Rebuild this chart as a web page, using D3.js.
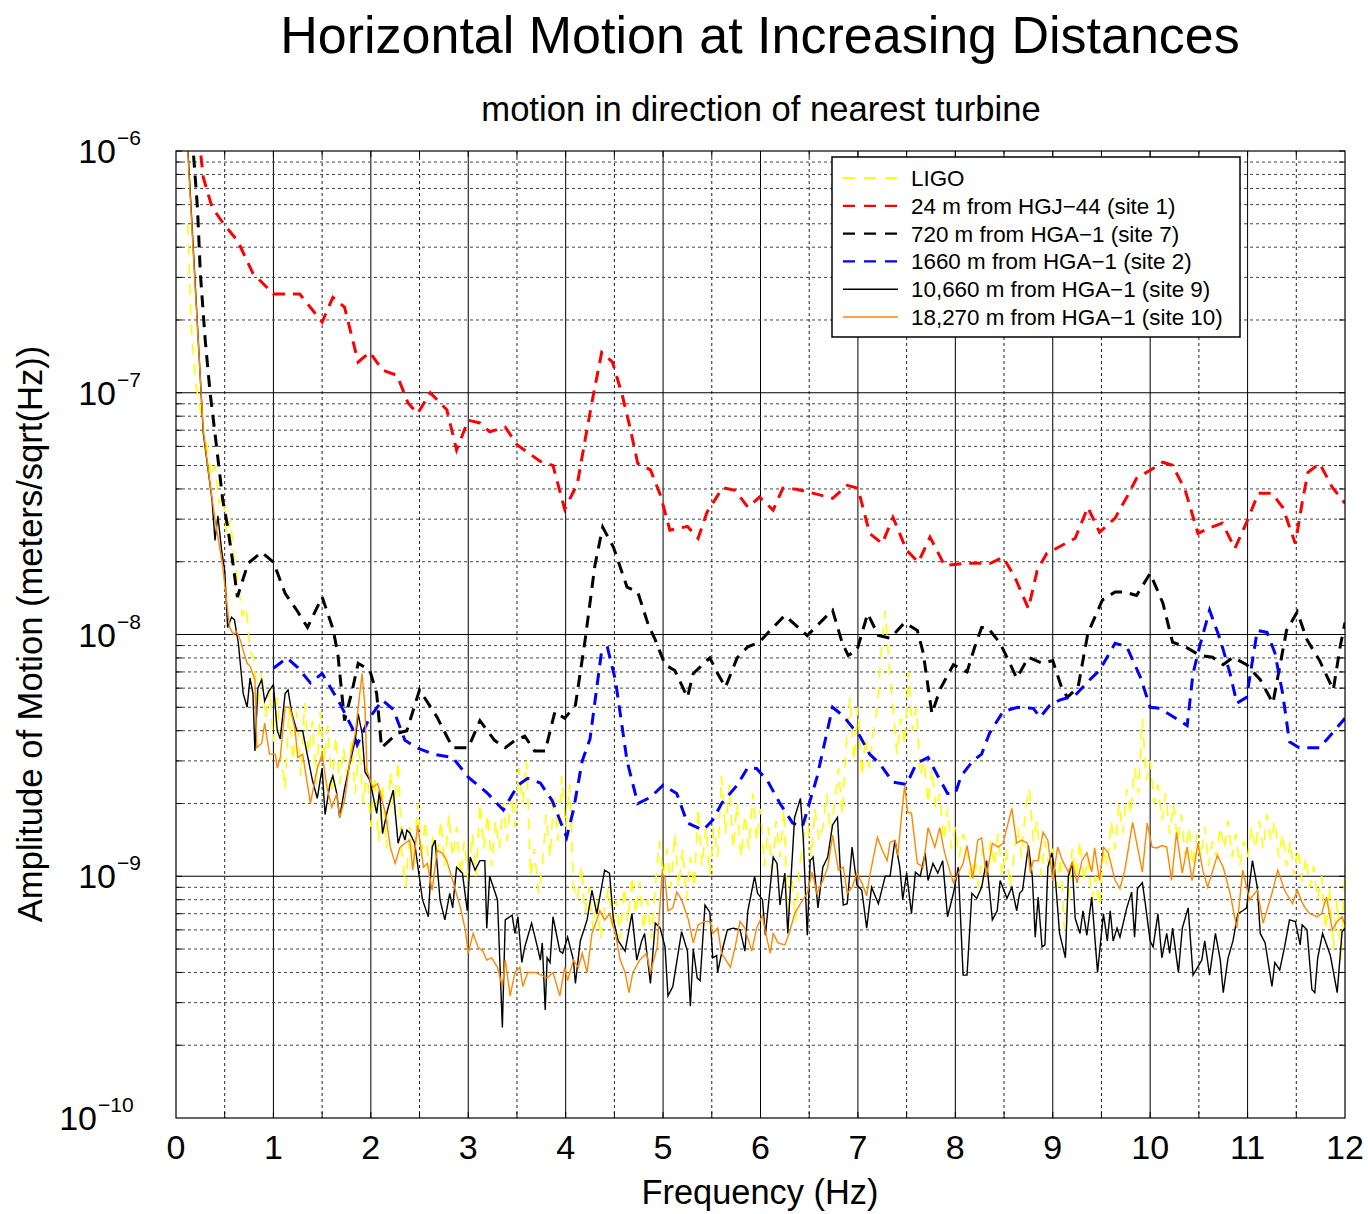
<!DOCTYPE html>
<html>
<head>
<meta charset="utf-8">
<script src="https://cdn.jsdelivr.net/npm/d3@7"></script>
<style>
  body { margin: 0; background: #fff; }
  svg { display: block; }
  text { font-family: "Liberation Sans", Arial, Helvetica, sans-serif; fill: #000; }
</style>
</head>
<body>
<svg id="chart" width="1368" height="1214"></svg>
<script>
// Amplitude values are given in nm/sqrt(Hz); multiplied by `unit` to get m/sqrt(Hz).
const unit = 1e-9;

// LIGO reference spectrum, sampled on a regular frequency grid.
const ligoStart = 0.12, ligoStep = 0.04;
const ligo = [
  500,180,110,90,70,60,45,50,35,38,26,30,20,16,12,13,8.5,8,5.0,7.0,4.5,6.0,3.6,5.5,3.0,
  2.3,5.0,3.0,4.8,2.6,5.2,3.2,4.4,2.4,4.8,3.0,4.2,2.2,3.8,2.4,3.4,2.5,3.6,2.2,3.5,2.0,2.8,1.6,2.6,1.4,
  2.4,1.3,2.7,1.8,3.0,1.2,0.9,1.6,1.1,2.0,1.2,1.7,1.0,1.5,1.2,1.7,1.1,1.8,1.2,1.6,1.0,1.4,0.95,1.5,1.0,
  2.0,1.3,1.8,1.1,1.7,1.3,2.0,1.4,2.2,1.6,2.8,2.0,3.0,1.0,1.3,0.85,1.1,1.8,1.2,2.2,1.4,2.6,1.6,2.4,0.9,
  0.8,1.1,0.7,0.9,0.6,0.8,0.55,0.75,0.9,0.6,0.8,0.55,0.9,0.65,1.0,0.7,0.95,0.6,0.8,0.55,0.9,1.4,1.0,1.3,0.9,
  1.5,0.9,1.3,0.8,1.2,0.9,1.9,1.1,1.6,1.0,1.6,1.2,2.6,1.5,2.4,1.3,2.0,1.2,1.8,1.3,2.2,1.4,1.9,1.1,1.6,
  1.0,1.7,1.2,1.9,0.7,1.0,0.65,1.1,1.4,1.8,1.2,1.9,1.4,1.6,2.2,1.5,2.0,2.8,1.8,3.5,5.5,3.0,5.0,2.6,3.8,
  2.8,4.0,5.0,8.5,12.5,7.5,5.0,3.2,4.5,3.5,7.0,4.0,5.0,2.6,3.0,2.0,2.8,1.9,2.2,1.4,1.9,1.3,1.6,1.2,1.5,
  1.3,0.95,1.2,0.9,1.3,1.0,1.4,1.1,1.5,1.0,1.3,0.9,1.2,1.6,1.2,1.9,2.3,1.4,1.7,1.0,1.4,1.1,1.3,0.9,1.2,
  0.6,0.8,1.3,1.0,1.4,0.95,1.2,0.8,1.0,0.75,1.3,1.1,1.7,1.3,2.0,1.5,2.3,1.8,2.8,2.2,4.5,2.5,3.0,2.0,2.4,
  1.7,2.2,1.5,2.0,1.4,1.8,1.2,1.6,1.1,1.5,1.2,1.6,1.1,1.4,1.2,1.6,1.3,1.7,1.2,1.5,1.1,1.4,1.2,1.6,1.3,
  1.7,1.3,1.8,1.4,1.7,1.2,1.5,1.1,1.4,1.0,1.3,0.95,1.2,0.9,1.1,0.8,1.0,0.6,0.9,0.5,0.8,0.45,1.1
];

// [frequency (Hz), amplitude (nm/sqrt(Hz))]
const site1 = [
  [0.22,1400],[0.25,1000],[0.28,778],[0.37,585],[0.50,492],[0.63,427],[0.79,312],[1.0,256],[1.27,256],
  [1.50,196],[1.61,248],[1.73,226],[1.87,134],[1.99,147],[2.12,124],[2.27,118],[2.38,91],[2.48,82],
  [2.61,100],[2.78,85],[2.88,58],[3.0,77],[3.12,75],[3.22,69],[3.38,72],[3.50,61],[3.74,52],[3.87,50],
  [3.99,33],[4.12,42],[4.20,64],[4.28,96],[4.37,147],[4.48,134],[4.58,98],[4.66,72],[4.74,51],[4.87,48],
  [4.97,38],[5.07,27],[5.25,28],[5.36,25],[5.45,32],[5.55,37],[5.61,40.5],[5.74,39.5],[5.87,33.6],
  [5.99,37],[6.13,32.7],[6.23,40.3],[6.37,39.9],[6.51,38.7],[6.74,36.6],[6.89,41.4],[7.0,40.3],
  [7.12,26.2],[7.25,23.8],[7.36,30.5],[7.50,22.3],[7.62,19.9],[7.74,25.3],[7.89,19.3],[8.12,19.7],
  [8.36,19.7],[8.49,20.9],[8.61,17.3],[8.75,12.8],[8.84,18.4],[8.94,21.7],[9.0,22.3],[9.23,25],
  [9.36,33.6],[9.48,26.5],[9.64,30.3],[9.76,37],[9.86,44.3],[10.0,47.8],[10.13,51.6],[10.23,50.1],
  [10.36,39.5],[10.49,26.2],[10.63,27.8],[10.74,28.9],[10.87,22.7],[10.99,29.1],[11.11,38.4],
  [11.25,38.4],[11.36,33.6],[11.49,23.8],[11.57,37],[11.62,46.9],[11.74,51],[11.87,40.6],[12.0,34.9]
];

const site7 = [
  [0.15,1400],[0.22,585],[0.25,312],[0.30,165],[0.35,100],[0.40,68],[0.48,36],[0.53,28],[0.59,19],
  [0.63,14.3],[0.74,19.7],[0.88,21.9],[1.0,19.9],[1.12,14.8],[1.24,12.6],[1.35,10.7],[1.50,14.3],
  [1.61,10.6],[1.66,8.4],[1.73,4.4],[1.81,5.9],[1.87,7.6],[1.99,7.1],[2.06,5.7],[2.11,3.4],[2.27,3.9],
  [2.37,4.0],[2.50,5.9],[2.68,4.55],[2.84,3.4],[3.0,3.4],[3.12,4.4],[3.27,3.65],[3.38,3.4],[3.48,3.65],
  [3.58,3.8],[3.68,3.3],[3.79,3.3],[3.89,4.8],[3.99,4.5],[4.10,5.1],[4.20,9.5],[4.30,19.3],[4.38,27.8],
  [4.49,23],[4.63,15.7],[4.74,15],[4.85,10.9],[4.92,9.5],[5.02,7.5],[5.12,7.1],[5.25,5.5],[5.31,6.9],
  [5.48,8.0],[5.56,6.9],[5.64,6.05],[5.76,8.0],[5.87,8.9],[5.99,9.3],[6.07,10.1],[6.25,12],[6.48,9.9],
  [6.64,11.5],[6.74,12.6],[6.84,9.2],[6.90,8.2],[6.99,8.6],[7.10,12.2],[7.21,9.9],[7.33,9.65],
  [7.48,11.2],[7.61,10.4],[7.67,8.4],[7.76,4.7],[7.84,5.9],[7.98,7.5],[8.12,7.0],[8.20,8.9],[8.27,10.7],
  [8.33,10.7],[8.46,9.2],[8.58,7.3],[8.63,6.6],[8.75,8.05],[8.89,7.6],[9.0,7.8],[9.09,6.05],[9.15,5.5],
  [9.26,6.05],[9.36,10.1],[9.51,13.9],[9.64,15],[9.74,15],[9.86,14.5],[10.0,17.9],[10.13,13.5],
  [10.23,9.3],[10.38,8.8],[10.51,8.2],[10.64,8.05],[10.75,7.5],[10.85,8.05],[10.99,7.5],[11.13,6.5],
  [11.26,5.2],[11.40,10.4],[11.51,12.4],[11.61,9.5],[11.74,7.8],[11.88,5.9],[11.95,8.9],[12.0,11.2]
];

const site2 = [
  [1.0,7.25],[1.14,8.0],[1.25,7.3],[1.38,6.3],[1.50,6.9],[1.68,5.2],[1.81,4.1],[1.86,3.5],[1.99,4.55],
  [2.12,5.35],[2.23,4.9],[2.35,3.65],[2.47,3.4],[2.64,3.2],[2.84,3.1],[3.0,2.57],[3.19,2.22],[3.36,1.88],
  [3.51,2.38],[3.61,2.54],[3.74,2.43],[3.86,2.06],[4.01,1.45],[4.08,1.88],[4.17,3.0],[4.25,3.7],
  [4.37,8.6],[4.43,8.8],[4.51,6.5],[4.63,3.0],[4.74,2.0],[4.87,2.12],[5.0,2.38],[5.14,2.2],[5.25,1.66],
  [5.41,1.55],[5.51,1.71],[5.60,2.0],[5.76,2.38],[5.87,2.82],[5.96,2.79],[6.07,2.49],[6.20,2.0],
  [6.33,1.66],[6.43,1.6],[6.51,2.06],[6.58,2.57],[6.68,3.9],[6.74,5.0],[6.85,4.6],[6.95,4.1],[7.02,3.8],
  [7.12,3.2],[7.23,2.9],[7.36,2.45],[7.50,2.4],[7.60,2.93],[7.72,3.1],[7.82,2.6],[7.92,2.2],[8.0,2.2],
  [8.06,2.6],[8.18,3.0],[8.27,3.2],[8.35,3.9],[8.49,4.8],[8.64,5.0],[8.80,4.95],[8.87,4.55],[8.97,5.1],
  [9.07,5.35],[9.23,5.6],[9.38,6.5],[9.48,7.1],[9.64,9.2],[9.76,8.9],[9.90,6.65],[10.0,5.0],[10.10,4.95],
  [10.38,4.2],[10.44,6.9],[10.51,9.0],[10.61,12.6],[10.72,9.5],[10.82,6.9],[10.89,5.2],[10.99,5.5],
  [11.10,10.4],[11.20,10.2],[11.28,8.4],[11.36,5.7],[11.43,3.6],[11.53,3.4],[11.74,3.4],[12.0,4.5]
];

const site9 = [
  [0.12,1050],[0.20,270],[0.28,68],[0.37,36],[0.40,24.5],[0.43,31],[0.47,22],[0.50,18.4],[0.53,10.7],
  [0.57,11.8],[0.60,11.5],[0.64,9.2],[0.69,5.7],[0.73,5.0],[0.76,6.6],[0.79,5.7],[0.81,3.3],[0.84,6.0],
  [0.88,6.5],[0.91,5.3],[0.95,5.8],[1.0,6.2],[1.04,4.0],[1.07,3.7],[1.12,5.7],[1.15,5.9],[1.19,4.7],
  [1.24,4.0],[1.30,4.0],[1.34,3.3],[1.40,2.5],[1.45,2.1],[1.50,2.8],[1.53,1.8],[1.58,2.4],[1.61,2.6],
  [1.65,2.2],[1.68,1.75],[1.73,2.3],[1.79,3.0],[1.84,3.65],[1.87,4.7],[1.91,3.9],[1.94,2.7],[1.99,2.5],
  [2.06,1.82],[2.09,2.27],[2.12,1.5],[2.17,1.87],[2.23,2.27],[2.28,1.37],[2.32,1.55],[2.35,1.41],
  [2.37,1.55],[2.40,1.51],[2.45,1.37],[2.53,0.80],[2.59,0.68],[2.63,1.32],[2.66,1.41],[2.71,0.80],
  [2.76,0.66],[2.81,0.85],[2.84,0.74],[2.88,1.09],[2.94,1.03],[2.99,0.72],[3.02,1.2],[3.07,1.06],
  [3.12,1.16],[3.17,1.16],[3.19,0.61],[3.22,1.0],[3.30,0.80],[3.35,0.237],[3.38,0.66],[3.45,0.69],
  [3.48,0.58],[3.51,0.68],[3.55,0.44],[3.58,0.51],[3.65,0.64],[3.71,0.51],[3.74,0.45],[3.76,0.53],
  [3.79,0.28],[3.81,0.46],[3.84,0.44],[3.87,0.68],[3.94,0.49],[3.97,0.48],[4.02,0.56],[4.08,0.45],
  [4.10,0.36],[4.15,0.54],[4.22,0.66],[4.27,0.875],[4.32,0.70],[4.40,1.06],[4.45,1.03],[4.49,0.66],
  [4.54,0.54],[4.61,0.49],[4.68,0.70],[4.73,0.45],[4.78,0.54],[4.81,0.58],[4.87,0.36],[4.92,0.64],
  [4.97,0.61],[5.02,0.51],[5.05,0.32],[5.10,0.35],[5.19,0.59],[5.25,0.49],[5.28,0.29],[5.31,0.50],
  [5.35,0.38],[5.38,0.37],[5.43,0.76],[5.48,0.71],[5.51,0.46],[5.55,0.47],[5.56,0.40],[5.61,0.50],
  [5.66,0.60],[5.72,0.61],[5.79,0.60],[5.84,0.49],[5.87,0.72],[5.94,1.0],[5.97,0.85],[6.02,0.80],
  [6.05,0.57],[6.13,1.2],[6.17,1.13],[6.20,0.76],[6.25,1.03],[6.28,0.58],[6.35,1.75],[6.41,2.1],
  [6.44,1.41],[6.48,0.57],[6.51,1.16],[6.54,1.2],[6.59,0.74],[6.64,1.09],[6.69,1.2],[6.74,1.63],
  [6.79,1.75],[6.82,1.06],[6.85,0.76],[6.89,0.77],[6.94,1.32],[6.99,0.92],[7.04,0.875],[7.09,0.61],
  [7.14,0.90],[7.21,0.77],[7.28,1.0],[7.33,1.0],[7.38,1.41],[7.43,1.09],[7.46,0.80],[7.50,1.03],
  [7.55,0.70],[7.59,1.04],[7.64,1.0],[7.69,1.25],[7.72,0.96],[7.77,1.13],[7.82,1.03],[7.87,1.16],
  [7.92,0.68],[7.98,0.85],[8.03,1.09],[8.08,0.39],[8.12,0.39],[8.17,0.85],[8.22,0.81],[8.27,0.90],
  [8.32,1.16],[8.38,0.66],[8.43,0.72],[8.46,0.96],[8.53,0.81],[8.58,0.90],[8.63,0.72],[8.66,0.85],
  [8.69,0.875],[8.75,1.34],[8.79,1.0],[8.82,0.56],[8.85,0.82],[8.89,0.51],[8.92,0.52],[8.95,1.09],
  [8.99,1.25],[9.02,1.06],[9.07,0.58],[9.13,0.46],[9.16,1.0],[9.20,1.14],[9.23,0.67],[9.28,0.58],
  [9.31,0.72],[9.35,0.57],[9.40,0.82],[9.46,0.40],[9.52,0.70],[9.56,0.54],[9.59,0.72],[9.62,0.54],
  [9.66,0.61],[9.69,0.56],[9.76,0.74],[9.81,0.86],[9.84,0.56],[9.87,0.89],[9.92,0.94],[9.95,0.77],
  [10.0,0.54],[10.03,0.51],[10.08,0.70],[10.12,0.46],[10.17,0.58],[10.20,0.48],[10.23,0.61],
  [10.29,0.40],[10.33,0.61],[10.39,0.74],[10.44,0.39],[10.53,0.45],[10.56,0.54],[10.61,0.39],
  [10.67,0.58],[10.72,0.45],[10.75,0.33],[10.80,0.46],[10.85,0.54],[10.90,0.70],[10.95,0.72],
  [10.99,0.74],[11.05,1.16],[11.10,0.90],[11.13,0.58],[11.18,0.53],[11.25,0.35],[11.28,0.44],
  [11.33,0.41],[11.38,0.51],[11.43,0.66],[11.49,0.65],[11.54,0.52],[11.56,0.63],[11.61,0.60],
  [11.66,0.34],[11.69,0.33],[11.72,0.46],[11.77,0.58],[11.85,0.47],[11.92,0.33],[11.97,0.59],[12.0,0.61]
];

const site10 = [
  [0.12,1000],[0.20,260],[0.28,70],[0.35,42],[0.40,30],[0.44,24],[0.48,19],[0.55,10.7],[0.59,10],
  [0.62,10.3],[0.66,9.5],[0.69,8.6],[0.73,7.6],[0.76,7.4],[0.81,6.5],[0.83,3.4],[0.88,3.55],[0.91,4.3],
  [0.96,3.2],[1.02,3.2],[1.04,2.8],[1.07,3.1],[1.12,5.0],[1.17,5.0],[1.22,4.1],[1.25,3.1],[1.30,3.2],
  [1.38,2.0],[1.45,2.8],[1.50,3.2],[1.55,2.33],[1.60,1.93],[1.65,2.2],[1.68,1.75],[1.73,2.06],[1.79,3.1],
  [1.84,3.9],[1.91,6.9],[1.94,5.0],[1.96,2.74],[2.02,2.33],[2.07,2.42],[2.15,1.82],[2.20,1.32],
  [2.25,1.13],[2.30,1.32],[2.35,1.37],[2.40,1.41],[2.43,1.06],[2.48,1.63],[2.54,1.09],[2.58,1.13],
  [2.63,0.875],[2.68,1.28],[2.73,1.25],[2.78,1.16],[2.84,0.96],[2.92,0.74],[2.97,0.60],[3.0,0.48],
  [3.05,0.58],[3.10,0.51],[3.15,0.49],[3.19,0.45],[3.24,0.46],[3.30,0.42],[3.35,0.35],[3.38,0.45],
  [3.43,0.32],[3.48,0.40],[3.53,0.42],[3.56,0.35],[3.61,0.40],[3.69,0.40],[3.81,0.38],[3.87,0.40],
  [3.94,0.32],[3.99,0.42],[4.02,0.37],[4.08,0.45],[4.13,0.42],[4.17,0.48],[4.22,0.40],[4.27,0.58],
  [4.32,0.66],[4.35,0.72],[4.40,0.66],[4.45,0.70],[4.51,0.58],[4.56,0.45],[4.61,0.40],[4.65,0.33],
  [4.69,0.40],[4.76,0.45],[4.83,0.48],[4.87,0.40],[4.94,0.51],[4.99,1.03],[5.02,0.98],[5.05,0.72],
  [5.10,0.74],[5.14,0.86],[5.19,0.80],[5.26,0.66],[5.31,0.53],[5.36,0.63],[5.43,0.65],[5.48,0.65],
  [5.51,0.58],[5.56,0.61],[5.60,0.48],[5.66,0.44],[5.69,0.42],[5.74,0.51],[5.79,0.65],[5.84,0.61],
  [5.91,0.49],[5.96,0.61],[6.02,0.69],[6.05,0.59],[6.10,0.48],[6.13,0.58],[6.18,0.53],[6.25,0.52],
  [6.30,0.59],[6.35,0.70],[6.41,0.77],[6.48,0.85],[6.53,1.04],[6.58,0.85],[6.64,0.96],[6.69,1.09],
  [6.74,1.48],[6.80,1.06],[6.85,1.09],[6.89,0.85],[6.94,0.90],[6.99,1.03],[7.04,0.94],[7.09,0.83],
  [7.12,1.0],[7.20,1.45],[7.25,1.28],[7.30,1.16],[7.33,1.38],[7.38,1.41],[7.41,1.22],[7.45,1.82],
  [7.48,2.38],[7.51,1.84],[7.55,1.82],[7.61,1.13],[7.67,1.09],[7.72,1.59],[7.79,1.32],[7.84,1.59],
  [7.89,1.25],[7.95,1.03],[7.98,0.94],[8.03,1.03],[8.08,1.13],[8.12,1.34],[8.18,0.98],[8.23,1.41],
  [8.27,1.44],[8.32,1.0],[8.38,1.37],[8.44,1.32],[8.49,1.37],[8.53,1.59],[8.58,1.91],[8.63,1.37],
  [8.68,1.41],[8.74,1.37],[8.77,1.03],[8.80,1.16],[8.85,1.16],[8.90,1.52],[8.95,1.41],[9.0,0.96],
  [9.05,1.32],[9.10,1.16],[9.16,1.04],[9.20,1.14],[9.25,0.94],[9.30,1.16],[9.35,1.25],[9.40,1.04],
  [9.43,1.31],[9.48,0.96],[9.52,1.32],[9.57,1.25],[9.64,0.96],[9.69,0.89],[9.74,1.06],[9.79,1.41],
  [9.82,1.67],[9.87,1.32],[9.92,1.04],[9.97,1.66],[10.02,1.32],[10.07,1.31],[10.12,1.34],[10.17,1.32],
  [10.22,0.96],[10.27,1.52],[10.33,1.03],[10.38,1.32],[10.43,0.96],[10.49,1.37],[10.54,1.06],
  [10.59,0.90],[10.69,1.22],[10.75,1.09],[10.82,0.85],[10.89,0.61],[10.95,1.06],[11.02,0.80],
  [11.10,0.875],[11.16,0.64],[11.25,0.85],[11.31,1.06],[11.38,0.875],[11.46,0.77],[11.51,0.875],
  [11.56,0.78],[11.59,0.74],[11.64,0.70],[11.71,0.68],[11.76,0.70],[11.81,0.82],[11.87,0.60],
  [11.92,0.65],[11.97,0.68],[12.0,0.63]
];

const legendLabels = [
  "LIGO",
  "24 m from HGJ\u221244 (site 1)",
  "720 m from HGA\u22121 (site 7)",
  "1660 m from HGA\u22121 (site 2)",
  "10,660 m from HGA\u22121 (site 9)",
  "18,270 m from HGA\u22121 (site 10)"
];
const xTicks = [0,1,2,3,4,5,6,7,8,9,10,11,12];
const yDecades = [-10,-9,-8,-7,-6];

const ligoPairs = ligo.map((v, i) => [ligoStart + i * ligoStep, v]);

const series = [
  { data: ligoPairs, color: "#ffff00", width: 1.6, dash: "11,9" },
  { data: site1,     color: "#ff0000", width: 3,   dash: "12,8" },
  { data: site7,     color: "#000000", width: 3,   dash: "12,8" },
  { data: site2,     color: "#0000ff", width: 3,   dash: "12,8" },
  { data: site9,     color: "#000000", width: 1.4, dash: null },
  { data: site10,    color: "#ff8800", width: 1.4, dash: null }
];

const svg = d3.select("#chart");
const L = 176, R = 1345, T = 151, B = 1118;

const x = d3.scaleLinear().domain([0, 12]).range([L, R]);
const y = d3.scaleLog().domain([1e-10, 1e-6]).range([B, T]);

// grid
const grid = svg.append("g");
for (let h = 1; h < 24; h++) {
  const f = h / 2, solid = h % 2 === 0;
  grid.append("line")
    .attr("x1", x(f)).attr("x2", x(f)).attr("y1", T).attr("y2", B)
    .attr("stroke", solid ? "#000" : "#222")
    .attr("stroke-width", 1)
    .attr("stroke-dasharray", solid ? null : "3,3");
}
yDecades.slice(0, -1).forEach(d => {
  for (let m = 2; m <= 9; m++) {
    const v = m * Math.pow(10, d);
    grid.append("line")
      .attr("x1", L).attr("x2", R).attr("y1", y(v)).attr("y2", y(v))
      .attr("stroke", "#444").attr("stroke-width", 1).attr("stroke-dasharray", "3,3");
  }
  if (d > -10) {
    const v = Math.pow(10, d);
    grid.append("line")
      .attr("x1", L).attr("x2", R).attr("y1", y(v)).attr("y2", y(v))
      .attr("stroke", "#000").attr("stroke-width", 1);
  }
});

// frame tick marks
const ticks = svg.append("g").attr("stroke", "#000").attr("stroke-width", 1);
for (let h = 1; h < 24; h++) {
  const xx = x(h / 2);
  ticks.append("line").attr("x1", xx).attr("x2", xx).attr("y1", B).attr("y2", B - 6);
  ticks.append("line").attr("x1", xx).attr("x2", xx).attr("y1", T).attr("y2", T + 6);
}
yDecades.slice(0, -1).forEach(d => {
  for (let m = 2; m <= 10; m++) {
    const yy = y(m * Math.pow(10, d));
    ticks.append("line").attr("x1", L).attr("x2", L + 6).attr("y1", yy).attr("y2", yy);
    ticks.append("line").attr("x1", R).attr("x2", R - 6).attr("y1", yy).attr("y2", yy);
  }
});

// series
svg.append("clipPath").attr("id", "plotClip")
  .append("rect").attr("x", L).attr("y", T).attr("width", R - L).attr("height", B - T);

const line = d3.line().x(d => x(d[0])).y(d => y(d[1] * unit));
const plot = svg.append("g").attr("clip-path", "url(#plotClip)");
series.forEach(s => {
  plot.append("path")
    .attr("d", line(s.data))
    .attr("fill", "none")
    .attr("stroke", s.color)
    .attr("stroke-width", s.width)
    .attr("stroke-linejoin", "miter")
    .attr("stroke-dasharray", s.dash);
});

// frame
svg.append("rect").attr("x", L).attr("y", T).attr("width", R - L).attr("height", B - T)
  .attr("fill", "none").attr("stroke", "#000").attr("stroke-width", 1.2);

// x tick labels
svg.append("g").selectAll("text").data(xTicks).join("text")
  .attr("x", d => x(d)).attr("y", 1159)
  .attr("text-anchor", "middle").attr("font-size", 34)
  .text(d => d);

// y tick labels: 10 with superscript exponent
const yl = svg.append("g");
yDecades.forEach(d => {
  const yy = y(Math.pow(10, d));
  const baseEnd = d <= -10 ? 97 : 116;
  yl.append("text").attr("x", baseEnd).attr("y", yy + 12)
    .attr("text-anchor", "end").attr("font-size", 34).text("10");
  yl.append("text").attr("x", baseEnd + 1).attr("y", yy - 6)
    .attr("text-anchor", "start").attr("font-size", 21).text("\u2212" + Math.abs(d));
});

// titles
svg.append("text").attr("x", 760).attr("y", 53).attr("text-anchor", "middle")
  .attr("font-size", 52).text("Horizontal Motion at Increasing Distances");
svg.append("text").attr("x", 761).attr("y", 121).attr("text-anchor", "middle")
  .attr("font-size", 34.6).text("motion in direction of nearest turbine");
svg.append("text").attr("x", 760).attr("y", 1204).attr("text-anchor", "middle")
  .attr("font-size", 34.4).text("Frequency (Hz)");
svg.append("text").attr("transform", "translate(42,634) rotate(-90)")
  .attr("text-anchor", "middle").attr("font-size", 34.6)
  .text("Amplitude of Motion (meters/sqrt(Hz))");

// legend
const lg = svg.append("g");
lg.append("rect").attr("x", 832).attr("y", 157).attr("width", 408).attr("height", 180)
  .attr("fill", "#fff").attr("stroke", "#000").attr("stroke-width", 1.5);
series.forEach((s, i) => {
  const ry = 178 + i * 27.8;
  lg.append("line").attr("x1", 843).attr("x2", 898).attr("y1", ry).attr("y2", ry)
    .attr("stroke", s.color).attr("stroke-width", s.dash ? 2.2 : 1.4)
    .attr("stroke-dasharray", s.dash ? "12,9" : null);
  lg.append("text").attr("x", 911).attr("y", ry + 8).attr("font-size", 22.4)
    .text(legendLabels[i]);
});
</script>
</body>
</html>
